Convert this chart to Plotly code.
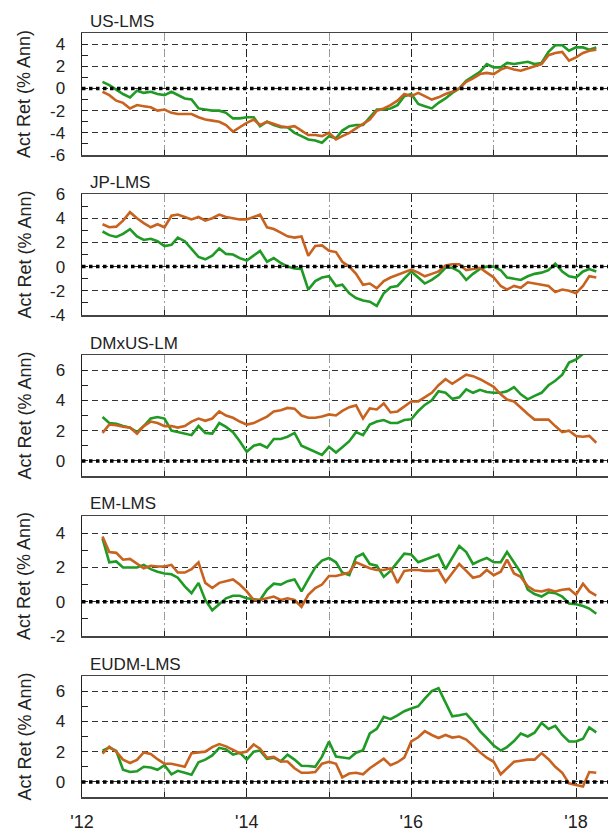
import pandas as pd
import plotly.graph_objects as go

dates = pd.date_range("2012-04-01", periods=73, freq="MS")

panel_titles = ["US-LMS", "JP-LMS", "DMxUS-LM", "EM-LMS", "EUDM-LMS"]
y_ranges = [[-6, 5], [-4, 6], [-1, 7], [-2, 5], [-1, 7]]
x_tick_vals = ["2012-01-01", "2014-01-01", "2016-01-01", "2018-01-01"]
x_tick_text = ["'12", "'14", "'16", "'18"]

us_green = [0.6, 0.3, -0.1, -0.5, -0.8, -0.2, -0.4, -0.3, -0.5, -0.6, -0.3, -0.6, -0.9, -1.0, -1.8, -1.9,
            -2.0, -2.0, -2.2, -2.7, -2.7, -2.6, -2.6, -3.4, -3.0, -3.3, -3.5, -3.5, -4.0, -4.3, -4.6, -4.7,
            -4.9, -4.3, -4.5, -3.8, -3.4, -3.3, -3.3, -2.6, -1.9, -1.9, -1.8, -1.5, -0.7, -0.5, -1.4, -1.6,
            -1.8, -1.3, -0.9, -0.4, 0.0, 0.7, 1.1, 1.5, 2.2, 1.9, 1.9, 2.3, 2.2, 2.3, 2.4, 2.2, 2.3, 3.3,
            3.9, 3.9, 3.4, 3.7, 3.7, 3.5, 3.7]
us_orange = [-0.3, -0.6, -1.1, -1.3, -1.8, -1.5, -1.6, -1.7, -2.0, -1.9, -2.2, -2.3, -2.3, -2.3, -2.6, -2.8,
             -2.9, -3.0, -3.3, -3.9, -3.5, -3.1, -2.8, -3.3, -3.0, -3.2, -3.4, -3.5, -3.4, -3.8, -4.2, -4.2,
             -4.3, -4.0, -4.6, -4.3, -4.0, -3.6, -3.2, -2.8, -2.0, -1.8, -1.5, -1.1, -0.5, -0.7, -0.4, -0.7,
             -1.0, -0.8, -0.5, -0.3, 0.0, 0.6, 0.9, 1.3, 1.4, 1.3, 1.7, 1.9, 1.7, 1.6, 1.8, 2.0, 2.2, 3.0,
             3.2, 3.3, 2.5, 2.8, 3.2, 3.4, 3.5]

jp_green = [2.9, 2.6, 2.45, 2.7, 3.1, 2.5, 2.2, 2.3, 2.1, 1.7, 1.8, 2.4, 2.1, 1.5, 0.8, 0.6,
            0.9, 1.5, 1.05, 1.0, 0.7, 0.5, 0.9, 1.3, 0.4, 0.7, 0.3, 0.0, -0.15, -0.2, -1.9, -1.2,
            -0.9, -0.8, -1.6, -1.5, -2.2, -2.6, -2.8, -2.9, -3.25, -2.2, -1.7, -1.6, -1.0, -0.4, -0.9, -1.4,
            -1.1, -0.7, -0.1, -0.1, -0.4, -1.1, -0.6, -0.2, 0.0, 0.0, -0.3, -0.9, -1.0, -1.1, -0.8, -0.6,
            -0.5, -0.3, 0.25, -0.4, -0.8, -0.9, -0.4, -0.2, -0.4]
jp_orange = [3.5, 3.25, 3.3, 3.8, 4.5, 4.0, 3.6, 3.25, 3.5, 3.25, 4.2, 4.3, 4.1, 3.9, 4.1, 3.8,
             4.0, 4.3, 4.1, 4.0, 3.9, 3.9, 4.1, 4.3, 3.25, 3.1, 2.8, 2.5, 2.4, 2.5, 0.9, 1.7,
             1.75, 1.3, 1.2, 0.4, 0.0, -0.6, -1.5, -1.4, -1.8, -1.2, -0.9, -0.7, -0.5, -0.25, -0.5, -0.8,
             -0.6, -0.4, 0.1, 0.2, 0.2, -0.3, -0.2, -0.1, -0.5, -0.9, -1.6, -1.9, -1.6, -1.75, -1.3, -1.4,
             -1.5, -1.6, -2.1, -1.9, -2.0, -2.2, -1.6, -0.8, -0.9]

dm_green = [2.9, 2.5, 2.45, 2.3, 2.2, 1.9, 2.3, 2.8, 2.9, 2.8, 2.0, 1.9, 1.8, 1.7, 2.3, 1.85,
            1.8, 2.5, 2.25, 1.9, 1.3, 0.6, 1.0, 1.1, 0.87, 1.45, 1.45, 1.6, 1.85, 1.0, 0.8, 0.6,
            0.4, 0.93, 0.55, 0.9, 1.3, 1.9, 1.7, 2.4, 2.6, 2.7, 2.5, 2.5, 2.7, 2.75, 3.3, 3.7,
            4.0, 4.6, 4.5, 4.1, 4.2, 4.73, 4.5, 4.7, 4.55, 4.5, 4.5, 4.6, 4.87, 4.4, 4.07, 4.3,
            4.5, 5.0, 5.3, 5.7, 6.5, 6.7, 7.1, 7.5, 7.8]
dm_orange = [1.85, 2.4, 2.35, 2.25, 2.2, 1.8, 2.3, 2.6, 2.5, 2.3, 2.3, 2.2, 2.3, 2.6, 2.8, 2.65,
             2.8, 3.27, 3.0, 2.85, 2.6, 2.4, 2.5, 2.7, 2.93, 3.27, 3.35, 3.5, 3.45, 3.0, 2.85, 2.85,
             2.93, 3.07, 3.0, 3.3, 3.55, 3.67, 2.8, 3.47, 3.4, 3.8, 3.2, 3.27, 3.6, 3.93, 3.93, 4.2,
             4.5, 5.0, 5.4, 5.1, 5.4, 5.7, 5.6, 5.4, 5.15, 4.9, 4.4, 4.05, 3.93, 3.5, 3.1, 2.73,
             2.73, 2.73, 2.3, 1.9, 2.0, 1.65, 1.6, 1.65, 1.2]

em_green = [3.7, 2.3, 2.35, 2.0, 2.0, 2.0, 2.15, 1.9, 1.75, 1.65, 1.6, 1.4, 0.9, 0.5, 1.1, 0.1,
            -0.5, -0.15, 0.2, 0.35, 0.35, 0.2, 0.15, 0.1, 0.7, 1.05, 1.0, 1.2, 1.3, 0.6, 1.3, 2.0,
            2.4, 2.55, 2.3, 1.7, 1.55, 2.6, 2.8, 2.2, 2.1, 1.45, 1.8, 2.3, 2.8, 2.75, 2.3, 2.45,
            2.6, 2.75, 1.9, 2.6, 3.25, 2.9, 2.2, 2.4, 2.55, 2.3, 2.3, 2.9, 2.3, 1.7, 0.7, 0.45,
            0.3, 0.55, 0.5, 0.3, -0.1, -0.15, -0.25, -0.4, -0.7]
em_orange = [3.8, 2.9, 2.85, 2.45, 2.5, 2.2, 1.95, 2.1, 2.05, 2.05, 2.15, 1.7, 1.7, 1.9, 2.3, 1.1,
             0.8, 1.1, 1.2, 1.3, 1.0, 0.6, 0.1, 0.1, 0.2, 0.3, 0.1, 0.2, 0.1, -0.3, 0.4, 0.8,
             1.0, 1.5, 1.5, 1.6, 1.7, 2.3, 2.1, 1.95, 1.85, 1.85, 1.95, 1.1, 1.8, 1.85, 1.85, 1.8,
             1.8, 1.85, 1.15, 1.7, 2.2, 1.8, 1.4, 1.5, 1.85, 1.55, 1.75, 2.45, 1.65, 1.45, 0.9, 0.65,
             0.6, 0.7, 0.6, 0.7, 0.75, 0.4, 1.05, 0.6, 0.35]

eu_green = [2.07, 2.27, 2.05, 0.8, 0.65, 0.7, 1.0, 0.95, 0.8, 1.1, 0.5, 0.73, 0.6, 0.47, 1.3, 1.47,
            1.75, 2.25, 2.15, 1.8, 1.93, 1.47, 2.0, 2.07, 1.53, 1.6, 1.35, 1.8, 1.47, 1.07, 1.05, 1.0,
            1.67, 2.67, 1.67, 1.6, 1.55, 1.93, 2.1, 3.2, 3.5, 4.3, 4.15, 4.4, 4.67, 4.85, 5.0, 5.5,
            6.0, 6.2, 5.3, 4.33, 4.4, 4.5, 4.0, 3.35, 2.9, 2.4, 2.07, 2.3, 2.7, 3.2, 3.0, 3.25,
            3.9, 3.5, 3.7, 3.1, 2.67, 2.67, 2.85, 3.6, 3.27]
eu_orange = [1.87, 2.33, 2.0, 1.47, 1.25, 1.45, 1.95, 1.85, 1.5, 1.2, 1.2, 1.1, 1.0, 1.9, 1.95, 2.0,
             2.3, 2.5, 2.35, 2.1, 1.9, 2.0, 2.47, 2.2, 1.6, 1.65, 1.35, 1.35, 0.9, 0.6, 0.6, 0.65,
             1.2, 1.33, 1.2, 0.3, 0.55, 0.6, 0.5, 0.9, 1.2, 1.53, 1.1, 1.3, 1.6, 2.67, 2.95, 3.35,
             3.1, 2.9, 3.1, 2.93, 3.0, 2.8, 2.4, 1.95, 1.6, 1.33, 0.5, 0.9, 1.33, 1.4, 1.47, 1.47,
             1.9, 1.5, 1.0, 0.6, -0.1, -0.2, -0.3, 0.65, 0.6]

green_series = [us_green, jp_green, dm_green, em_green, eu_green]
orange_series = [us_orange, jp_orange, dm_orange, em_orange, eu_orange]

W, H = 608, 833
GREEN = "#1f9a24"
ORANGE = "#c8621f"
FONT = "Liberation Sans, Arial, sans-serif"
panel_px = [(33, 155), (194, 315), (355, 476), (516, 636), (676, 797)]
plot_left = 82

fig = go.Figure()
layout = dict(
    width=W, height=H, margin=dict(l=0, r=0, t=0, b=0, autoexpand=False),
    paper_bgcolor="white", plot_bgcolor="white", showlegend=False,
    font=dict(family=FONT, size=16, color="#222"),
)
shapes = []
annotations = []

for i in range(5):
    n = "" if i == 0 else str(i + 1)
    top, bot = panel_px[i]
    dom_y = [1 - bot / H, 1 - top / H]
    xa, ya = "x" + n, "y" + n
    fig.add_trace(go.Scatter(x=dates, y=green_series[i], mode="lines",
                             line=dict(color=GREEN, width=2.6), xaxis=xa, yaxis=ya))
    fig.add_trace(go.Scatter(x=dates, y=orange_series[i], mode="lines",
                             line=dict(color=ORANGE, width=2.6), xaxis=xa, yaxis=ya))
    lo, hi = y_ranges[i]
    major = [v for v in range(lo, hi + 1) if v % 2 == 0]
    layout["xaxis" + n] = dict(
        domain=[plot_left / W, 1.0], anchor=ya, type="date",
        range=["2012-01-01", "2018-05-23"],
        tickvals=x_tick_vals, ticktext=x_tick_text,
        showticklabels=(i == 4), tickfont=dict(size=18, color="#222"),
        ticks="inside", ticklen=5, tickcolor="#222",
        showgrid=True, gridcolor="#222", gridwidth=1, griddash="8px,3px,2px,3px",
        minor=dict(dtick="M12", tick0="2012-01-01", showgrid=True, gridcolor="#9a9a9a",
                   gridwidth=1, griddash="8px,3px,2px,3px", ticks="inside", ticklen=5,
                   tickcolor="#222"),
        showline=True, linecolor="#444", linewidth=1.5, mirror=True,
        zeroline=False, fixedrange=True, ticklabelstandoff=8, automargin=False,
    )
    layout["yaxis" + n] = dict(
        domain=dom_y, anchor=xa, range=[lo, hi],
        tickvals=major, ticktext=[str(v) for v in major],
        tickfont=dict(size=17, color="#222"),
        ticks="inside", ticklen=6, tickcolor="#222",
        minor=dict(dtick=1, ticks="inside", ticklen=6, tickcolor="#222", showgrid=False),
        showgrid=True, gridcolor="#333", gridwidth=1, griddash="6px,4px",
        showline=True, linecolor="#222", linewidth=1.5, mirror=False,
        zeroline=False, fixedrange=True, ticklabelstandoff=12, automargin=False,
    )
    shapes.append(dict(type="line", xref="x" + n + " domain", yref=ya,
                       x0=0, x1=1, y0=0, y1=0,
                       line=dict(color="black", width=3.5, dash="dot"), layer="above"))
    annotations.append(dict(text=panel_titles[i], xref="paper", yref="paper",
                            x=88 / W, y=1 - (top - 12) / H, xanchor="left", yanchor="middle",
                            showarrow=False, font=dict(size=17, color="#222", family=FONT)))
    annotations.append(dict(text="Act Ret (% Ann)", xref="paper", yref="paper",
                            x=24 / W, y=1 - ((top + bot) / 2) / H, xanchor="center",
                            yanchor="middle", textangle=-90, showarrow=False,
                            font=dict(size=18, color="#222", family=FONT)))

layout["shapes"] = shapes
layout["annotations"] = annotations
fig.update_layout(**layout)
fig.write_html(
    "out.html",
    config={"displayModeBar": False, "staticPlot": True},
    post_script="document.body.style.margin='0';document.body.style.padding='0';"
                "document.documentElement.style.overflow='hidden';",
)
